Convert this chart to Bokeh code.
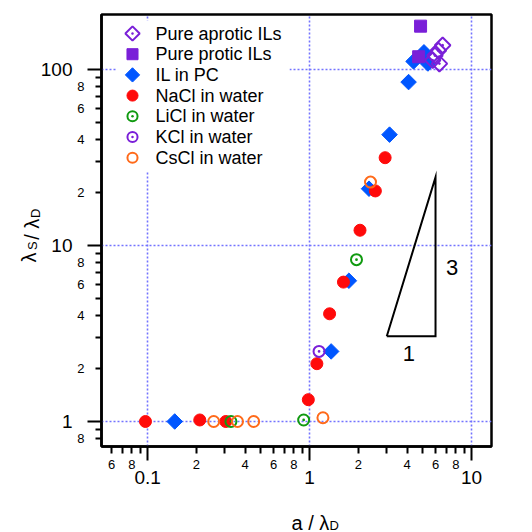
import math

from bokeh.core.properties import value
from bokeh.embed import file_html
from bokeh.models import (CustomJSTickFormatter, FixedTicker, Label, LinearScale,
                          LogAxis, Range1d)
from bokeh.plotting import figure
from bokeh.resources import INLINE

FONT = "Liberation Sans"

# ---- data: screening length ratio vs. ion size ratio ----
aprotic_x = [5.76, 5.95, 6.25, 6.64, 6.34]
aprotic_y = [112.6, 120.0, 128.0, 137.0, 107.8]

protic_x = [4.85, 4.72]
protic_y = [176.0, 118.0]

il_pc_x = [0.147, 1.36, 1.75, 2.33, 3.12, 4.09, 4.39, 5.09, 5.38]
il_pc_y = [1.0, 2.5, 6.3, 21.0, 42.6, 84.7, 111.0, 125.0, 108.0]

nacl_x = [0.097, 0.21, 0.304, 0.983, 1.11, 1.33, 1.62, 2.05, 2.55, 2.93]
nacl_y = [1.0, 1.02, 1.0, 1.33, 2.13, 4.09, 6.19, 12.2, 20.4, 31.5]

licl_x = [0.327, 0.92, 1.95]
licl_y = [1.0, 1.02, 8.3]

kcl_x = [1.145]
kcl_y = [2.5]

cscl_x = [0.256, 0.359, 0.452, 1.21, 2.38]
cscl_y = [1.0, 1.0, 1.0, 1.05, 22.9]

# slope-3 guide triangle: x doubles while y grows eightfold
slope_x = [3.0, 6.0, 6.0, 3.0]
slope_y = [3.05, 3.05, 24.4, 3.05]
slope_run_label = "1"
slope_rise_label = "3"

# ---- axis ticks ----
x_major = [0.1, 1.0, 10.0]
x_minor = [0.06, 0.07, 0.08, 0.09,
           0.2, 0.3, 0.4, 0.5, 0.6, 0.7, 0.8, 0.9,
           2.0, 3.0, 4.0, 5.0, 6.0, 7.0, 8.0, 9.0]
y_major = [1.0, 10.0, 100.0]
y_minor = [0.8, 0.9,
           2.0, 3.0, 4.0, 5.0, 6.0, 7.0, 8.0, 9.0,
           20.0, 30.0, 40.0, 50.0, 60.0, 70.0, 80.0, 90.0]

# ---- colours ----
PURPLE = "#7a1fd8"
BLUE = "#0056ff"
RED = "#ff0a0a"
GREEN = "#109a10"
ORANGE = "#ff6a1a"
GRID = "#7373ff"

W, H = 532, 532
LEFT, RIGHT, TOP, BOTTOM = 101, 41, 14, 86
FW, FH = W - LEFT - RIGHT, H - TOP - BOTTOM

p = figure(width=W, height=H, x_axis_type="log", y_axis_type="log",
           x_range=Range1d(0.0519, 13.3), y_range=Range1d(0.721, 205),
           output_backend="svg", toolbar_location=None, title=None,
           min_border_left=LEFT, min_border_right=RIGHT,
           min_border_top=TOP, min_border_bottom=BOTTOM,
           background_fill_color="white", border_fill_color="white")
p.outline_line_color = "black"
p.outline_line_width = 2.5

# pixel-space coordinates inside the frame, used for the legend block
p.extra_x_ranges = {"px": Range1d(0, FW)}
p.extra_y_ranges = {"px": Range1d(0, FH)}
p.extra_x_scales = {"px": LinearScale()}
p.extra_y_scales = {"px": LinearScale()}

# ---- axes: inner axis carries ticks + minor digit labels, outer axis the decades ----
MINOR_CODE = """
const e = Math.floor(Math.log10(tick) + 1e-9);
const d = Math.round(tick / Math.pow(10, e));
return (d % 2 == 0) ? String(d) : "";
"""
MAJOR_CODE = "return tick < 1 ? tick.toString() : tick.toFixed(0);"


def style_inner(ax, ticks, decades, tick_out, standoff):
    ax.ticker = FixedTicker(ticks=ticks, minor_ticks=decades)
    ax.formatter = CustomJSTickFormatter(code=MINOR_CODE)
    ax.axis_line_color = "black"
    ax.axis_line_width = 2.5
    ax.major_tick_in = 0
    ax.major_tick_out = tick_out
    ax.minor_tick_in = 0
    ax.minor_tick_out = 14
    ax.major_tick_line_color = "black"
    ax.minor_tick_line_color = "black"
    ax.major_tick_line_width = 2
    ax.minor_tick_line_width = 2
    ax.major_label_standoff = standoff
    ax.major_label_text_font = FONT
    ax.major_label_text_font_size = "13px"
    ax.major_label_text_color = "black"
    ax.axis_label = None


def outer_axis(decades, standoff):
    return LogAxis(ticker=FixedTicker(ticks=decades, minor_ticks=[]),
                   formatter=CustomJSTickFormatter(code=MAJOR_CODE),
                   axis_line_color=None, major_tick_line_color=None,
                   minor_tick_line_color=None, major_tick_in=0, major_tick_out=0,
                   minor_tick_in=0, minor_tick_out=0,
                   major_label_standoff=standoff,
                   major_label_text_font=FONT, major_label_text_font_size="19px",
                   major_label_text_color="black")


style_inner(p.xaxis[0], x_minor, x_major, 7, -1)
style_inner(p.yaxis[0], y_minor, y_major, 6, 3)
p.add_layout(outer_axis(x_major, -1), "below")
p.add_layout(outer_axis(y_major, 2), "left")

# dotted grid at the decades only
p.xgrid.ticker = FixedTicker(ticks=x_major)
p.ygrid.ticker = FixedTicker(ticks=y_major)
for g in (p.xgrid, p.ygrid):
    g.grid_line_color = GRID
    g.grid_line_width = 1.6
    g.grid_line_dash = "2 2"

# ---- marker styles ----
styles = {
    "aprotic": dict(marker="square_dot", angle=math.pi / 4, size=11,
                    fill_color=None, line_color=PURPLE, line_width=2),
    "protic": dict(marker="square", size=12, fill_color=PURPLE,
                   line_color=PURPLE, line_width=1),
    "il_pc": dict(marker="square", angle=math.pi / 4, size=11,
                  fill_color=BLUE, line_color=BLUE, line_width=1),
    "nacl": dict(marker="circle", size=12, fill_color=RED, line_color=RED,
                 line_width=1),
    "licl": dict(marker="circle_dot", size=11, fill_color=None,
                 line_color=GREEN, line_width=2),
    "kcl": dict(marker="circle_dot", size=11, fill_color=None,
                line_color=PURPLE, line_width=2),
    "cscl": dict(marker="circle", size=11, fill_color=None,
                 line_color=ORANGE, line_width=2),
}

series = [
    ("Pure aprotic ILs", "aprotic", aprotic_x, aprotic_y),
    ("Pure protic ILs", "protic", protic_x, protic_y),
    ("IL in PC", "il_pc", il_pc_x, il_pc_y),
    ("NaCl in water", "nacl", nacl_x, nacl_y),
    ("LiCl in water", "licl", licl_x, licl_y),
    ("KCl in water", "kcl", kcl_x, kcl_y),
    ("CsCl in water", "cscl", cscl_x, cscl_y),
]

# legend block (white panel, markers and names), top-left of the frame
row_h = 20.7
first_row = FH - 19
glyph_x = 31
text_x = 54
p.quad(left=[15], right=[188], top=[FH - 6], bottom=[first_row - 6 * row_h - 14],
       x_range_name="px", y_range_name="px",
       fill_color="white", line_color=None)

# slope guide
p.line(slope_x, slope_y, line_color="black", line_width=2, line_join="miter")
p.add_layout(Label(x=7.6, y=7.5, text=slope_rise_label, text_font=FONT,
                   text_font_size="22px", text_align="center",
                   text_baseline="middle", text_color="black"))
p.add_layout(Label(x=4.1, y=2.44, text=slope_run_label, text_font=FONT,
                   text_font_size="22px", text_align="center",
                   text_baseline="middle", text_color="black"))

# data, drawn with the blue series underneath and the pure ILs on top
draw_order = ["il_pc", "nacl", "licl", "kcl", "cscl", "protic", "aprotic"]
by_key = {key: (name, xs, ys) for name, key, xs, ys in series}
for key in draw_order:
    name, xs, ys = by_key[key]
    p.scatter(xs, ys, **styles[key])

for i, (name, key, _, _) in enumerate(series):
    gy = first_row - i * row_h
    st = dict(styles[key])
    st["size"] = st["size"] * 0.92
    p.scatter([glyph_x], [gy], x_range_name="px", y_range_name="px", **st)
    p.text([text_x], [gy], text=[name], x_range_name="px", y_range_name="px",
           text_font=value(FONT), text_font_size="18px", text_color="black",
           text_baseline="middle", text_align="left")


# axis titles with subscripts; each piece sits in a side panel so it is not
# clipped to the frame, and is positioned relative to that panel
def title_part(side, x, y, text, size, angle=0.0):
    p.add_layout(Label(x=x, y=y, x_units="screen", y_units="screen", text=text,
                       text_font=FONT, text_font_size=size, angle=angle,
                       text_align="left", text_baseline="alphabetic",
                       text_color="black"), side)


up = math.pi / 2
# x title: a / lambda_D
title_part("below", 190, -14, "a / \u03bb", "20px")
title_part("below", 228, -1.5, "D", "13px")
# y title: lambda_S / lambda_D
title_part("left", 13.2, 184, "\u03bb", "20px", up)
title_part("left", 31.7, 196.5, "S", "13px", up)
title_part("right", -460, 206.7, " / \u03bb", "20px", up)
title_part("right", -478, 228.4, "D", "13px", up)

open("out.html", "w").write(file_html(p, INLINE))
